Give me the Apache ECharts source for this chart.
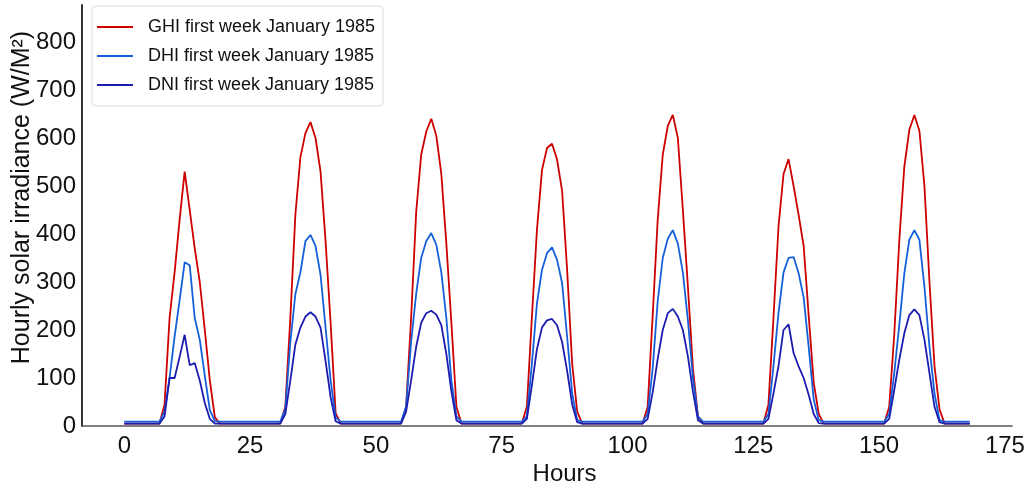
<!DOCTYPE html>
<html>
<head>
<meta charset="utf-8">
<script src="https://cdn.jsdelivr.net/npm/echarts@6/dist/echarts.min.js"></script>
<style>
html,body{margin:0;padding:0;background:#fff;}
#chart{width:1030px;height:493px;}
</style>
</head>
<body>
<div id="chart"></div>
<script>
// Hourly values, hours 0..168
const seriesNames = ['GHI first week January 1985', 'DHI first week January 1985', 'DNI first week January 1985'];
const xTicks = [0, 25, 50, 75, 100, 125, 150, 175];
const yTicks = [0, 100, 200, 300, 400, 500, 600, 700, 800];

const ghi = [5,5,5,5,5,5,5,5,
  45,225,320,430,530,450,370,300,200,95,18,
  5,5,5,5,5,5,5,5,5,5,5,5,5,
  40,225,440,560,610,633,600,530,385,215,27,
  5,5,5,5,5,5,5,5,5,5,5,5,5,
  40,225,445,565,613,640,605,525,380,215,40,
  5,5,5,5,5,5,5,5,5,5,5,5,5,
  40,227,408,533,579,588,555,490,325,130,30,
  5,5,5,5,5,5,5,5,5,5,5,5,5,
  40,230,430,565,625,648,600,450,290,120,20,
  5,5,5,5,5,5,5,5,5,5,5,5,5,
  45,225,415,525,556,500,440,375,230,90,25,
  5,5,5,5,5,5,5,5,5,5,5,5,5,
  40,190,385,540,617,648,615,500,300,125,35,
  5,5,5,5,5,5];

const dhi = [9,9,9,9,9,9,9,9,
  30,100,186,262,341,335,225,180,105,33,10,
  9,9,9,9,9,9,9,9,9,9,9,9,9,
  35,175,275,320,385,398,375,315,205,95,18,
  9,9,9,9,9,9,9,9,9,9,9,9,9,
  40,175,275,350,385,402,378,320,225,95,20,
  9,9,9,9,9,9,9,9,9,9,9,9,9,
  20,130,255,325,360,372,346,298,186,68,12,
  9,9,9,9,9,9,9,9,9,9,9,9,9,
  25,120,260,350,390,408,380,320,220,100,20,
  9,9,9,9,9,9,9,9,9,9,9,9,9,
  25,125,235,320,350,352,318,268,165,55,12,
  9,9,9,9,9,9,9,9,9,9,9,9,9,
  25,110,210,318,388,408,388,290,165,68,12,
  9,9,9,9,9,9];

const dni = [5,5,5,5,5,5,5,5,
  20,100,100,144,190,127,131,95,48,15,5,
  5,5,5,5,5,5,5,5,5,5,5,5,5,
  25,95,170,205,228,237,228,205,135,60,10,
  5,5,5,5,5,5,5,5,5,5,5,5,5,
  30,95,165,215,235,240,232,210,150,72,12,
  5,5,5,5,5,5,5,5,5,5,5,5,5,
  15,85,160,205,220,223,210,175,115,45,8,
  5,5,5,5,5,5,5,5,5,5,5,5,5,
  15,70,140,200,235,244,228,200,145,72,12,
  5,5,5,5,5,5,5,5,5,5,5,5,5,
  15,68,125,200,212,152,124,100,65,25,6,
  5,5,5,5,5,5,5,5,5,5,5,5,5,
  15,75,138,193,231,243,231,180,110,40,8,
  5,5,5,5,5,5];

const colors = ['#cc0000', '#1560d8', '#1c1cb0'];
const toPairs = arr => arr.map((v, i) => [i, v]);
const lineIcon = 'path://M0,0 L36,0 L36,2 L0,2 Z';

const chart = echarts.init(document.getElementById('chart'), null, {renderer: 'canvas'});
const font = 'Liberation Sans, Arial, sans-serif';

chart.setOption({
  animation: false,
  backgroundColor: '#ffffff',
  textStyle: {fontFamily: font},
  grid: [
    {left: 82, right: 18, top: 5, bottom: 67, containLabel: false, outerBoundsMode: 'none'},
    {left: 124.3, right: 25.1, top: 5, bottom: 67, containLabel: false, outerBoundsMode: 'none'}
  ],
  legend: {
    data: seriesNames.map(n => ({name: n, icon: lineIcon})),
    orient: 'vertical',
    left: 92,
    top: 6,
    padding: [12, 8, 12, 5],
    itemWidth: 36,
    itemHeight: 14,
    itemGap: 11,
    backgroundColor: '#ffffff',
    borderColor: '#dddddd',
    borderWidth: 1,
    borderRadius: 4,
    textStyle: {fontSize: 18, color: '#111', fontFamily: font, padding: [0, 0, 0, 10]}
  },
  xAxis: [
    {
      type: 'value', gridIndex: 0, min: -8.4, max: 176.4,
      axisLine: {show: true, onZero: false, lineStyle: {color: '#555', width: 1.5}},
      axisTick: {show: false}, axisLabel: {show: false}, splitLine: {show: false}
    },
    {
      type: 'value', gridIndex: 1, min: xTicks[0], max: xTicks[xTicks.length - 1], interval: 25,
      name: 'Hours', nameLocation: 'middle', nameGap: 36, nameMoveOverlap: false,
      nameTextStyle: {fontSize: 24, color: '#111', fontFamily: font},
      axisLine: {show: false}, axisTick: {show: false}, splitLine: {show: false},
      axisLabel: {fontSize: 24, color: '#111', margin: 8, fontFamily: font}
    }
  ],
  yAxis: [
    {
      type: 'value', gridIndex: 0, min: yTicks[0], max: 877, interval: 100,
      name: 'Hourly solar irradiance (W/M²)', nameLocation: 'middle', nameGap: 47, nameMoveOverlap: false,
      nameTextStyle: {fontSize: 25, color: '#111', fontFamily: font, padding: [0, 0, 0, 36]},
      axisLine: {show: true, onZero: false, lineStyle: {color: '#333', width: 2}},
      axisTick: {show: false}, splitLine: {show: false},
      axisLabel: {fontSize: 24, color: '#111', margin: 6, fontFamily: font,
        formatter: v => (yTicks.indexOf(v) >= 0 ? String(v) : '')}
    },
    {type: 'value', gridIndex: 1, show: false, min: 0, max: 877}
  ],
  series: [
    {name: seriesNames[0], type: 'line', xAxisIndex: 0, yAxisIndex: 0, data: toPairs(ghi),
      symbol: 'none', color: colors[0], lineStyle: {width: 1.8, color: colors[0]}, z: 2},
    {name: seriesNames[1], type: 'line', xAxisIndex: 0, yAxisIndex: 0, data: toPairs(dhi),
      symbol: 'none', color: colors[1], lineStyle: {width: 1.8, color: colors[1]}, z: 3},
    {name: seriesNames[2], type: 'line', xAxisIndex: 0, yAxisIndex: 0, data: toPairs(dni),
      symbol: 'none', color: colors[2], lineStyle: {width: 1.8, color: colors[2]}, z: 4}
  ]
});
</script>
</body>
</html>
